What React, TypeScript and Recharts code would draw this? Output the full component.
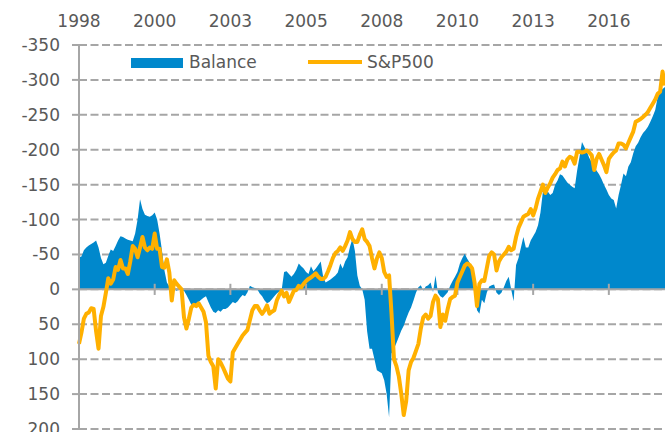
import {
  ComposedChart,
  Area,
  Line,
  XAxis,
  YAxis,
  CartesianGrid,
  ReferenceLine,
} from "recharts";

// monthly, Jan 1998 .. Jan 2018 (index = months since Jan 1998)
const yearLabels = ["1998", "2000", "2003", "2005", "2008", "2010", "2013", "2016"];
const yearTicks = [0, 31, 62, 93, 124, 155, 186, 217];
const valueTicks = [-350, -300, -250, -200, -150, -100, -50, 0, 50, 100, 150, 200];

const balance = [
  -46, -47, -56, -60, -63, -65, -67, -70, -60, -45,
  -36, -38, -48, -57, -55, -62, -70, -76, -75, -73,
  -71, -70, -69, -80, -100, -129, -115, -107, -105, -104,
  -106, -110, -100, -80, -55, -27, -10, -4, -2, 0,
  2, 0, 3, 2, 8, 15, 22, 25, 22, 18,
  15, 12, 10, 18, 26, 32, 34, 30, 32, 28,
  28, 26, 22, 18, 20, 17, 12, 8, 10, 4,
  -5, -3, -2, 0, 6, 10, 16, 20, 18, 14,
  10, 6, 3, 1, -25, -26, -22, -18, -22, -28,
  -37, -33, -30, -25, -22, -33, -26, -30, -35, -40,
  -18, -10, -12, -14, -17, -20, -24, -37, -30, -40,
  -46, -61, -73, -55, -20, -5, 0, 15, 60, 85,
  85, 100, 116, 118, 120, 130, 150, 183, 92, 85,
  77, 68, 59, 52, 42, 33, 26, 16, 5, -3,
  -6, 2, -4, -6, -10, 4, -20, 5, 10, 12,
  8, 4, -5, -12, -18, -25, -37, -45, -51, -44,
  -38, -28, -6, 30, 35, 15, 20, 5, -4, -6,
  -7, 5, 8, 5, -3, -12, -18, 0, 17, -35,
  -45, -60, -75, -60, -60, -70, -76, -82, -92, -110,
  -140, -145, -140, -135, -138, -150, -156, -165, -163, -158,
  -153, -150, -147, -145, -170, -190, -211, -204, -197, -188,
  -182, -176, -170, -165, -158, -150, -143, -135, -130, -128,
  -116, -135, -150, -166, -162, -176, -182, -195, -205, -210,
  -218, -224, -228, -233, -240, -248, -257, -275, -283, -287,
  -290,
];

const sp500 = [
  78, 62, 42, 35, 33, 27, 28, 60, 85, 38,
  25, 5, -16, -8, -14, -32, -28, -42, -30, -30,
  -22, -40, -62, -58, -46, -60, -75, -60, -56, -60,
  -58, -80, -58, -58, -32, -31, -43, -24, 16, -13,
  -8, -4, 0, 40, 56, 42, 26, 22, 24, 20,
  26, 32, 47, 95, 104, 110, 142, 100, 105, 112,
  120, 128, 132, 90, 84, 78, 72, 66, 62, 58,
  44, 30, 24, 24, 30, 35, 30, 23, 35, 32,
  30, 16, 8, 2, 10, 5, 18, 10, 2, 1,
  -5, -3, -8, -12, -15, -17, -20, -23, -18, -15,
  -15, -18, -26, -35, -45, -52, -55, -60, -55, -62,
  -70, -82, -72, -68, -68, -78, -86, -72, -68, -62,
  -45, -30, -44, -53, -45, -25, -18, -20, 35, 100,
  110, 125, 150, 180, 160, 116, 104, 98, 88, 78,
  56, 40, 36, 42, 38, 18, 9, 14, 54, 36,
  45, 28, 14, 11, 9, -10, -18, -26, -34, -37,
  -35, -30, -10, 24, -8, -13, -12, -30, -48, -53,
  -50, -27, -40, -46, -50, -54, -61, -56, -58, -75,
  -88, -96, -104, -106, -108, -115, -106, -116, -130, -140,
  -150, -138, -146, -152, -160, -165, -171, -173, -183, -176,
  -186, -190, -188, -180, -197, -197, -196, -197, -199, -196,
  -192, -171, -187, -194, -186, -178, -168, -187, -192, -196,
  -199, -209, -209, -207, -202, -210, -218, -226, -240, -242,
  -244, -247, -250, -254, -260, -266, -272, -280, -283, -312,
  -292,
];

const data = balance.map((b, i) => ({ m: i, balance: b, sp500: sp500[i] }));

const grey = "#a6a6a6";
const textGrey = "#595959";
const font = "'DejaVu Sans', Verdana, sans-serif";
const blue = "#0088cc";
const orange = "#ffb000";

export default function App() {
  return (
    <div style={{ position: "absolute", left: 0, top: 0, width: 665, height: 432 }}>
      <ComposedChart width={665} height={432} data={data} margin={{ top: 0, right: 0, left: 0, bottom: 3 }}>
        <CartesianGrid vertical={false} stroke={grey} strokeWidth={2} strokeDasharray="8 3.5" />
        <XAxis
          type="number"
          dataKey="m"
          domain={[0, 240]}
          ticks={yearTicks}
          interval={0}
          orientation="top"
          height={45}
          axisLine={false}
          tickLine={false}
          tickSize={0}
          tickMargin={18}
          tickFormatter={(v) => yearLabels[yearTicks.indexOf(v)]}
          tick={{ fill: textGrey, fontSize: 17, fontFamily: font }}
        />
        <YAxis
          type="number"
          domain={[-350, 200]}
          reversed
          ticks={valueTicks}
          interval={0}
          width={79}
          axisLine={{ stroke: grey, strokeWidth: 2 }}
          tickLine={{ stroke: grey, strokeWidth: 2 }}
          tickSize={7}
          tickMargin={12}
          tick={{ fill: textGrey, fontSize: 17, fontFamily: font }}
        />
        <Area dataKey="balance" type="linear" fill={blue} fillOpacity={1} stroke="none" baseValue={0} isAnimationActive={false} />
        <ReferenceLine y={0} stroke={grey} strokeWidth={2} />
        {yearTicks.slice(1).map((t) => (
          <ReferenceLine key={t} segment={[{ x: t, y: -8 }, { x: t, y: 8 }]} stroke={grey} strokeWidth={2} />
        ))}
        <Line dataKey="sp500" type="linear" stroke={orange} strokeWidth={4} dot={false} strokeLinejoin="round" isAnimationActive={false} />
      </ComposedChart>
      {/* legend */}
      <svg width={665} height={90} style={{ position: "absolute", left: 0, top: 0, pointerEvents: "none" }}>
        <rect x={131} y={58} width={52} height={10} fill={blue} />
        <text x={189} y={68} fill={textGrey} fontSize={17} fontFamily={font}>Balance</text>
        <line x1={308} x2={362} y1={62} y2={62} stroke={orange} strokeWidth={4} />
        <text x={367} y={68} fill={textGrey} fontSize={17} fontFamily={font}>S&amp;P500</text>
      </svg>
    </div>
  );
}
